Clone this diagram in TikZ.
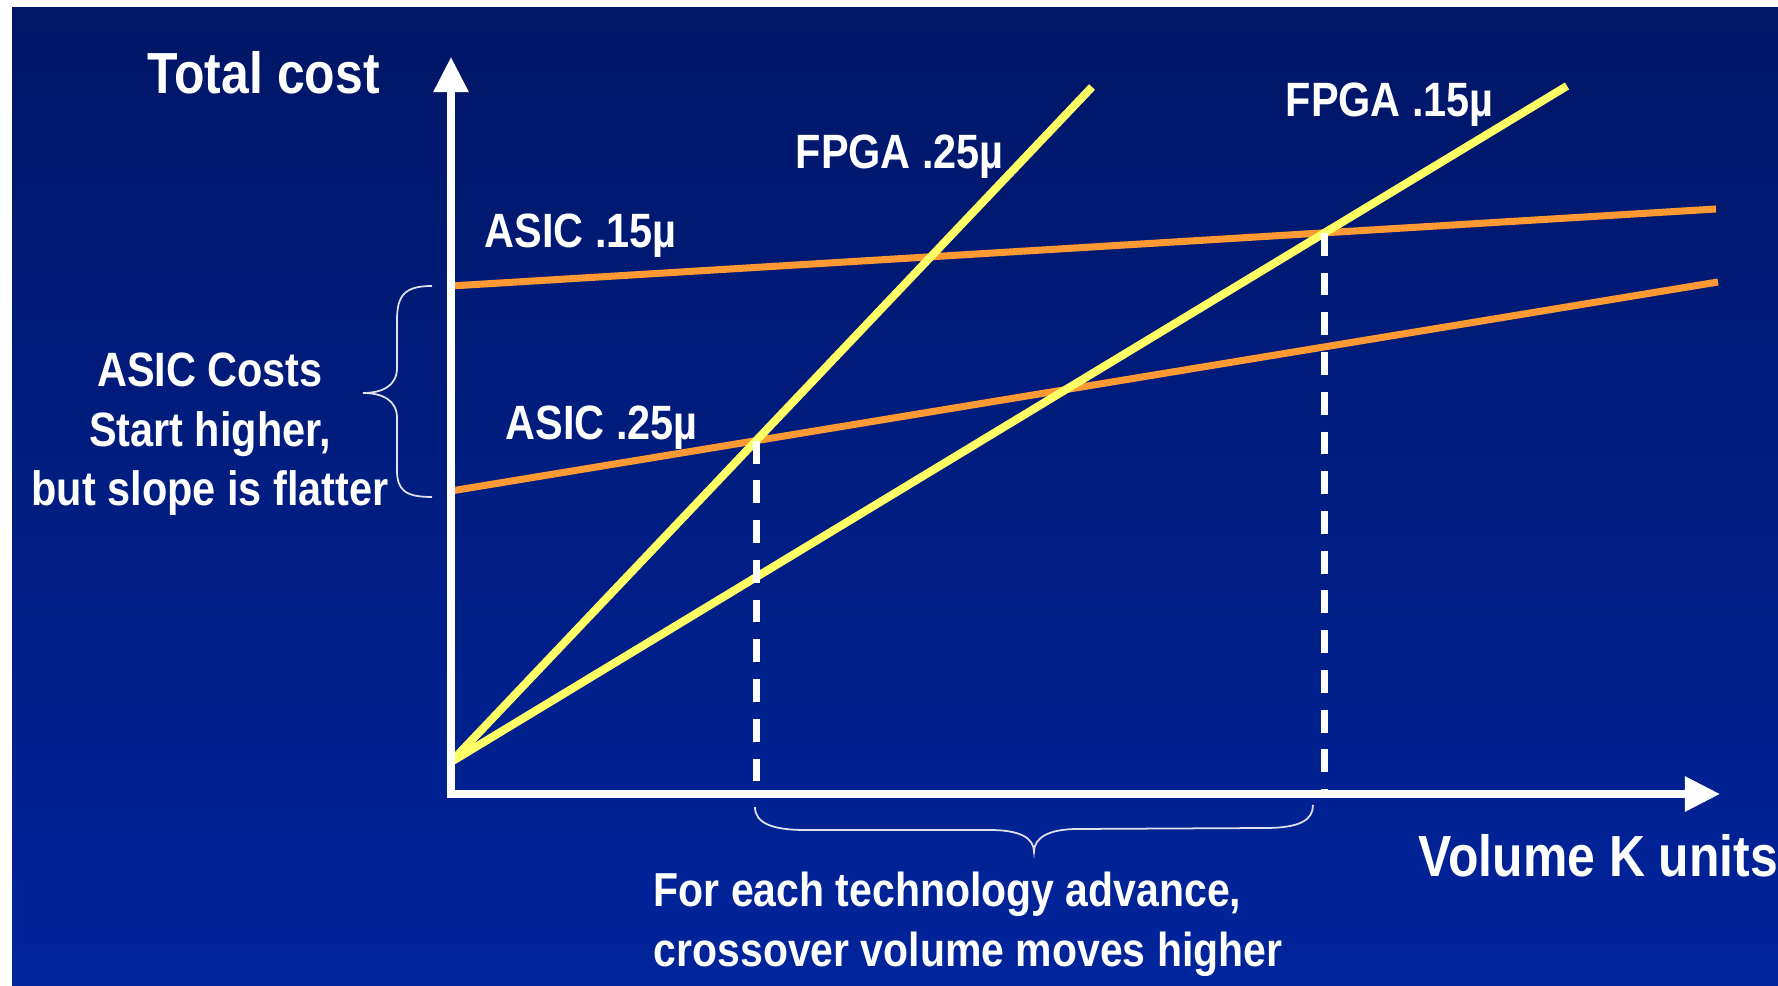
\documentclass[tikz,border=0pt]{standalone}
\usepackage{fontspec}
\newfontfamily\slidefont{Liberation Sans}[FakeStretch=0.86]
\usetikzlibrary{arrows.meta,intersections,positioning}
\definecolor{bgtop}{RGB}{0,22,102}
\definecolor{bgbot}{RGB}{0,36,156}
\definecolor{fpgayellow}{RGB}{255,255,102}
\definecolor{asicorange}{RGB}{255,153,51}
\definecolor{bracegray}{RGB}{225,225,235}

\begin{document}
\begin{tikzpicture}[
    x=0.01cm, y=-0.01cm,
    axis/.style={draw=white, line width=2pt, miter limit=4,
        {Triangle[length=10pt,width=9.6pt]}-{Triangle[length=10pt,width=9.6pt]}},
    fpga/.style={draw=fpgayellow, line width=2.3pt},
    asic/.style={draw=asicorange, line width=2pt},
    drop/.style={draw=white, line width=2pt, dash pattern=on 6.5pt off 4.8pt},
    curly/.style={draw=bracegray, line width=0.5pt},
    lbl/.style={text=white, inner sep=0pt, font=\slidefont\bfseries\fontsize{13.7}{17}\selectfont},
    big/.style={lbl, font=\slidefont\bfseries\fontsize{16.5}{20}\selectfont}
]
    \useasboundingbox (0,0) rectangle (1778,986);
    \fill[top color=bgtop, bottom color=bgbot] (12,8) rectangle (1778,986);

    \coordinate (O) at (451,794);
    \coordinate (ytip) at (451,57);
    \coordinate (xtip) at (1720,794);
    \coordinate (fstart) at (451,762);
    \coordinate (f25end) at (1092,87);
    \coordinate (f15end) at (1567,86);
    \coordinate (a15start) at (451,286);
    \coordinate (a15end) at (1716,209);
    \coordinate (a25start) at (451,491);
    \coordinate (a25end) at (1718,282);

    \draw[asic, name path=a15] (a15start) -- (a15end);
    \draw[asic, name path=a25] (a25start) -- (a25end);
    \draw[fpga, name path=f25] (fstart) -- (f25end);
    \draw[fpga, name path=f15] (fstart) -- (f15end);

    \path[name intersections={of=f25 and a25, by=cross25}];
    \path[name intersections={of=f15 and a15, by=cross15}];
    \draw[drop] (cross25) -- (cross25 |- O);
    \draw[drop] (cross15) -- (cross15 |- O);

    \draw[axis] (ytip) -- (O) -- (xtip);

    \node[big, anchor=base west] (totalcost) at (147,94) {Total cost};
    \node[big, anchor=base west] (volume) at (1418,877) {Volume K units};
    \node[lbl, anchor=base west] (f25lbl) at (795,169) {FPGA .25µ};
    \node[lbl, anchor=base west] (f15lbl) at (1285,117) {FPGA .15µ};
    \node[lbl, anchor=base west] (a15lbl) at (484,248) {ASIC .15µ};
    \node[lbl, anchor=base west] (a25lbl) at (505,440) {ASIC .25µ};
    \node[lbl, align=center, anchor=north] (asiccost) at (210,352)
        {ASIC Costs\\Start higher,\\but slope is flatter};
    \node[lbl, font=\slidefont\bfseries\fontsize{13.55}{17}\selectfont,
        align=left, anchor=north west] (advance) at (653,871)
        {For each technology advance,\\crossover volume moves higher};

    \draw[curly] (432,286) .. controls (405,286) and (397,295) .. (397,320)
        -- (397,368) .. controls (397,386) and (382,393) .. (363,393)
        .. controls (382,393) and (397,400) .. (397,418)
        -- (397,470) .. controls (397,490) and (405,497) .. (432,497);
    \draw[curly] (755,807) .. controls (755,823) and (772,830) .. (805,830)
        -- (990,830) .. controls (1020,830) and (1034,838) .. (1034,852)
        .. controls (1034,838) and (1048,829) .. (1078,829)
        -- (1265,828) .. controls (1300,828) and (1313,820) .. (1313,805);
\end{tikzpicture}
\end{document}
